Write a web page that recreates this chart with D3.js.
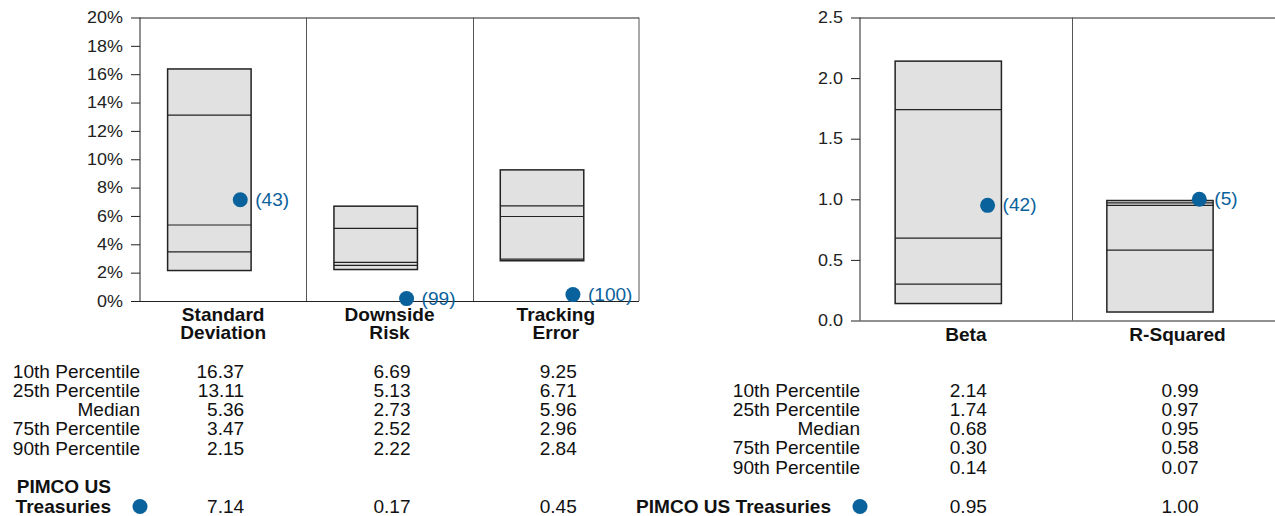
<!DOCTYPE html>
<html>
<head>
<meta charset="utf-8">
<script src="https://cdn.jsdelivr.net/npm/d3@7/dist/d3.min.js"></script>
<style>
  html, body { margin: 0; padding: 0; background: #fff; }
  svg { display: block; font-family: "Liberation Sans", Arial, sans-serif; }
</style>
</head>
<body>
<svg id="chart" width="1275" height="516"></svg>
<script>
// ---- Data ----
const leftCategories = [["Standard", "Deviation"], ["Downside", "Risk"], ["Tracking", "Error"]];
const leftP10 = [16.37, 6.69, 9.25];
const leftP25 = [13.11, 5.13, 6.71];
const leftMedian = [5.36, 2.73, 5.96];
const leftP75 = [3.47, 2.52, 2.96];
const leftP90 = [2.15, 2.22, 2.84];
const leftFund = [7.14, 0.17, 0.45];
const leftRank = [43, 99, 100];
const leftTicks = [0, 2, 4, 6, 8, 10, 12, 14, 16, 18, 20];

const rightCategories = [["Beta"], ["R-Squared"]];
const rightP10 = [2.14, 0.99];
const rightP25 = [1.74, 0.97];
const rightMedian = [0.68, 0.95];
const rightP75 = [0.30, 0.58];
const rightP90 = [0.14, 0.07];
const rightFund = [0.95, 1.00];
const rightRank = [42, 5];
const rightTicks = [0, 0.5, 1.0, 1.5, 2.0, 2.5];

const rowLabels = ["10th Percentile", "25th Percentile", "Median", "75th Percentile", "90th Percentile"];
const fundNameLines = ["PIMCO US", "Treasuries"];
const fundName = "PIMCO US Treasuries";

const BLUE = "#0a629c";
const SX = 1.09;   // horizontal stretch of the reference lettering
const svg = d3.select("#chart");

// text helper: stretched horizontally around its anchor point
function txt(parent, X, Y, str, o = {}) {
  const g = parent.append("g").attr("transform", `translate(${X},${Y}) scale(${SX},1)`);
  g.append("text")
    .attr("text-anchor", o.anchor || "start")
    .attr("dy", o.dy == null ? "0.35em" : o.dy)
    .attr("font-size", o.size || 17.5)
    .attr("font-weight", o.bold ? "bold" : "normal")
    .attr("fill", o.fill || "#111")
    .text(str);
  return g;
}

function panelChart(opts) {
  const { x0, x1, top, bottom, domain, ticks, fmt, cats, p10, p25, med, p75, p90, fund, rank, rightFrame } = opts;
  const n = cats.length;
  const y = d3.scaleLinear().domain(domain).range([bottom, top]);
  const x = d3.scaleBand().domain(d3.range(n)).range([x0, x1]).paddingInner(0).paddingOuter(0);
  const g = svg.append("g");

  // Axis
  const axis = d3.axisLeft(y).tickValues(ticks).tickFormat(fmt).tickSize(9).tickPadding(8);
  const ag = g.append("g").attr("transform", `translate(${x0},0)`).call(axis);
  ag.select(".domain").remove();
  ag.selectAll(".tick line").attr("stroke", "#222").attr("stroke-width", 1);
  ag.selectAll(".tick text").attr("font-size", 16.5).attr("fill", "#222")
    .attr("font-family", "'Liberation Sans', Arial, sans-serif")
    .attr("x", -17 / SX).attr("transform", `scale(${SX},1)`);

  // frame
  const bw = x.bandwidth();
  const xEnd = x0 + n * bw;
  g.append("line").attr("x1", x0).attr("x2", x0).attr("y1", top).attr("y2", bottom).attr("stroke", "#222");
  g.append("line").attr("x1", x0).attr("x2", xEnd).attr("y1", top + 0.5).attr("y2", top + 0.5).attr("stroke", "#222");
  g.append("line").attr("x1", x0).attr("x2", xEnd).attr("y1", bottom + 0.5).attr("y2", bottom + 0.5).attr("stroke", "#222");
  for (let i = 1; i < n; i++) {
    const sx = Math.round(x(i)) + 0.5;
    g.append("line").attr("x1", sx).attr("x2", sx).attr("y1", top).attr("y2", bottom).attr("stroke", "#555");
  }
  if (rightFrame) {
    g.append("line").attr("x1", xEnd).attr("x2", xEnd).attr("y1", top).attr("y2", bottom).attr("stroke", "#555");
  }

  // boxes
  for (let i = 0; i < n; i++) {
    const bx = x(i) + bw * 0.166;
    const bwid = bw * 0.502;
    g.append("rect").attr("x", bx).attr("y", y(p10[i])).attr("width", bwid)
      .attr("height", y(p90[i]) - y(p10[i]))
      .attr("fill", "#e1e1e1").attr("stroke", "#222").attr("stroke-width", 1.5);
    [p25[i], med[i], p75[i]].forEach(v => {
      g.append("line").attr("x1", bx).attr("x2", bx + bwid).attr("y1", y(v)).attr("y2", y(v))
        .attr("stroke", "#222").attr("stroke-width", 1.2);
    });
    const dx = bx + bwid * 0.87;
    g.append("circle").attr("cx", dx).attr("cy", y(fund[i])).attr("r", 7.5).attr("fill", BLUE);
    txt(g, dx + 15, y(fund[i]), `(${rank[i]})`, { size: 17.5, fill: BLUE });
    // category label
    const cx = x(i) + bw / 2;
    cats[i].forEach((line, k) => {
      txt(g, cx, bottom + 20 + k * 18, line, { anchor: "middle", bold: true, size: 17.5, dy: 0 });
    });
  }
  return { x, bw };
}

// Left chart
const L = panelChart({
  x0: 140, x1: 639, top: 17.5, bottom: 301, domain: [0, 20], ticks: leftTicks,
  fmt: d => d + "%", cats: leftCategories, p10: leftP10, p25: leftP25, med: leftMedian,
  p75: leftP75, p90: leftP90, fund: leftFund, rank: leftRank, rightFrame: true
});

// Right chart
const R = panelChart({
  x0: 860, x1: 1283.4, top: 17.5, bottom: 320.5, domain: [0, 2.5], ticks: rightTicks,
  fmt: d3.format(".1f"), cats: rightCategories, p10: rightP10, p25: rightP25, med: rightMedian,
  p75: rightP75, p90: rightP90, fund: rightFund, rank: rightRank, rightFrame: false
});

// Tables
function table(labelX, rowY0, scaleInfo, cols) {
  const g = svg.append("g");
  rowLabels.forEach((lab, r) => {
    const yy = rowY0 + r * 19.1;
    txt(g, labelX, yy, lab, { anchor: "end" });
    cols.forEach((col, c) => {
      const cx = scaleInfo.x(c) + scaleInfo.bw / 2 + 21;
      txt(g, cx, yy, col[r].toFixed(2), { anchor: "end" });
    });
  });
}
table(140, 372, L, [0, 1, 2].map(i => [leftP10[i], leftP25[i], leftMedian[i], leftP75[i], leftP90[i]]));
table(860, 391, R, [0, 1].map(i => [rightP10[i], rightP25[i], rightMedian[i], rightP75[i], rightP90[i]]));

// Fund rows
const fy = 506.5;
const fg = svg.append("g");
txt(fg, 111, 487, fundNameLines[0], { anchor: "end", bold: true });
txt(fg, 111, fy, fundNameLines[1], { anchor: "end", bold: true });
fg.append("circle").attr("cx", 140).attr("cy", fy).attr("r", 7.5).attr("fill", BLUE);
leftFund.forEach((v, i) => {
  txt(fg, L.x(i) + L.bw / 2 + 21, fy, v.toFixed(2), { anchor: "end" });
});
txt(fg, 831, fy, fundName, { anchor: "end", bold: true });
fg.append("circle").attr("cx", 860).attr("cy", fy).attr("r", 7.5).attr("fill", BLUE);
rightFund.forEach((v, i) => {
  txt(fg, R.x(i) + R.bw / 2 + 21, fy, v.toFixed(2), { anchor: "end" });
});
</script>
</body>
</html>
